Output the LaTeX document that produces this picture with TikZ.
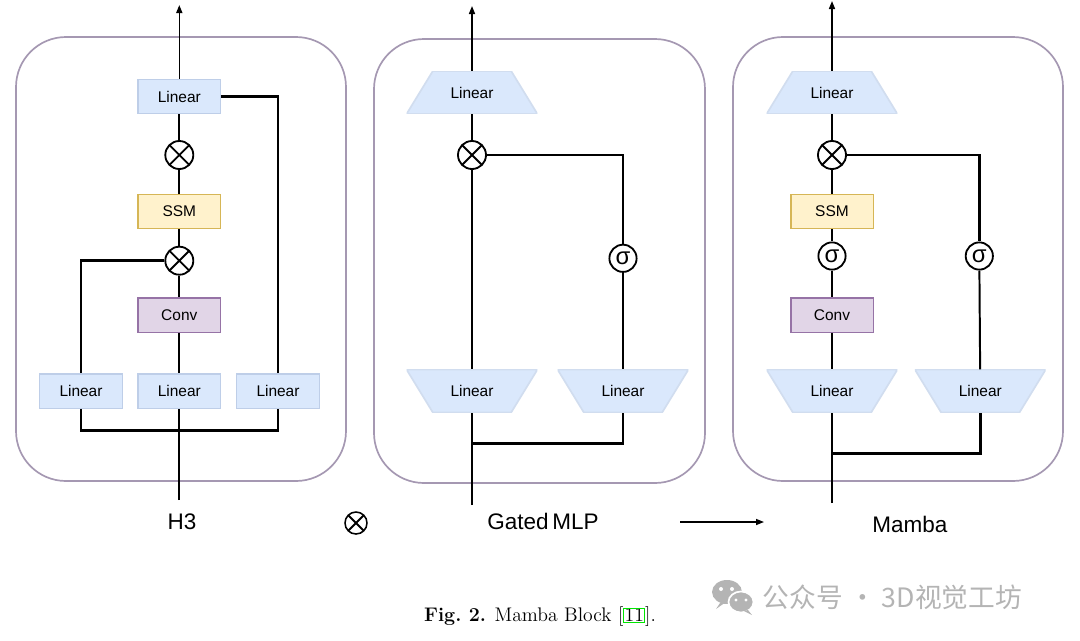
\documentclass[tikz,border=0pt]{standalone}
\usepackage{fontspec}
\newfontfamily\diagfont{Liberation Sans}
\newfontfamily\cjkfont{Noto Sans CJK SC}
\usetikzlibrary{shapes.geometric, arrows.meta, positioning}
\definecolor{linfill}{RGB}{218,232,252}
\definecolor{linborder}{RGB}{190,206,232}
\definecolor{ssmfill}{RGB}{255,242,204}
\definecolor{ssmborder}{RGB}{214,182,86}
\definecolor{convfill}{RGB}{225,213,231}
\definecolor{convborder}{RGB}{150,115,166}
\definecolor{panelborder}{RGB}{165,152,178}
\definecolor{markgray}{RGB}{180,180,180}
\definecolor{linkgreen}{RGB}{0,230,0}

\begin{document}
\begin{tikzpicture}[x=0.025cm, y=-0.025cm,
    panel/.style={draw=panelborder, line width=1.2pt, rounded corners=1.25cm},
    linbox/.style={draw=linborder, line width=1pt, fill=linfill, minimum width=2.06cm, minimum height=0.86cm, inner sep=0pt, font=\diagfont\fontsize{11}{13}\selectfont},
    ssmbox/.style={linbox, draw=ssmborder, fill=ssmfill},
    convbox/.style={linbox, draw=convborder, fill=convfill},
    narrowtop/.style={rectangle, minimum width=3.27cm, minimum height=1.07cm, inner sep=0pt, font=\diagfont\fontsize{11}{13}\selectfont,
        path picture={\filldraw[fill=linfill, draw=linborder!70, line width=1.2pt]
            (path picture bounding box.south west) -- (path picture bounding box.south east)
            -- ([xshift=-0.655cm]path picture bounding box.north east) -- ([xshift=0.655cm]path picture bounding box.north west) -- cycle;}},
    narrowbottom/.style={rectangle, minimum width=3.27cm, minimum height=1.07cm, inner sep=0pt, font=\diagfont\fontsize{11}{13}\selectfont,
        path picture={\filldraw[fill=linfill, draw=linborder!70, line width=1.2pt]
            (path picture bounding box.north west) -- (path picture bounding box.north east)
            -- ([xshift=-0.655cm]path picture bounding box.south east) -- ([xshift=0.655cm]path picture bounding box.south west) -- cycle;}},
    mul/.style={circle, draw, line width=1.3pt, fill=white, minimum size=0.7cm, inner sep=0pt,
        path picture={\draw[line width=1.3pt] (path picture bounding box.south west) -- (path picture bounding box.north east)
            (path picture bounding box.north west) -- (path picture bounding box.south east);}},
    sig/.style={circle, draw, line width=1.3pt, fill=white, minimum size=0.68cm, inner sep=0pt, font=\diagfont\fontsize{17}{17}\selectfont},
    wire/.style={line width=1.4pt},
    bus/.style={line width=2pt},
    arrow/.style={-{Triangle[length=2mm, width=1.5mm]}, line width=1.1pt},
    title/.style={font=\diagfont\fontsize{16}{18}\selectfont}
]
\useasboundingbox (0,0) rectangle (1080,640);

% Panels
\draw[panel] (16,37) rectangle (346,481);
\draw[panel] (374,39) rectangle (705,483);
\draw[panel] (733,37) rectangle (1063,481);

% H3
\node[linbox] (h3top) at (179.3,96.5) {Linear};
\node[mul] (h3mula) at (179.3,155) {};
\node[ssmbox] (h3ssm) at (179.3,211.5) {SSM};
\node[mul] (h3mulb) at (179.3,260.7) {};
\node[convbox] (h3conv) at (179.3,315) {Conv};
\node[linbox] (h3la) at (81,391) {Linear};
\node[linbox] (h3lb) at (179.3,391) {Linear};
\node[linbox] (h3lc) at (278,391) {Linear};
\coordinate (h3out) at (179.3,5);
\coordinate (h3in) at (179.3,500);
\coordinate (h3bus) at (179.3,430.7);

\draw[arrow] (h3top) -- (h3out);
\draw[wire] (h3top) -- (h3mula);
\draw[wire] (h3mula) -- (h3ssm);
\draw[wire] (h3ssm) -- (h3mulb);
\draw[wire] (h3mulb) -- (h3conv);
\draw[wire] (h3conv) -- (h3lb);
\draw[wire] (h3in) -- (h3lb);
\draw[bus] (h3la) |- (h3mulb);
\draw[bus] (h3lc) |- (h3top);
\draw[bus] (h3la) |- (h3bus) -| (h3lc);

% Gated MLP
\node[narrowtop] (gmtop) at (472,92.5) {Linear};
\node[mul] (gmmul) at (472,155) {};
\node[sig] (gmsig) at (623,258.3) {σ};
\node[narrowbottom] (gmla) at (472,391) {Linear};
\node[narrowbottom] (gmlb) at (623,391) {Linear};
\coordinate (gmout) at (472,6);
\coordinate (gmin) at (472,505);
\coordinate (gmbus) at (472,443.3);

\draw[arrow] (gmtop) -- (gmout);
\draw[wire] (gmtop) -- (gmmul);
\draw[wire] (gmmul) -- (gmla);
\draw[wire] (gmmul) -| (gmsig);
\draw[wire] (gmsig) -- (gmlb);
\draw[wire] (gmin) -- (gmla);
\draw[bus] (gmbus) -| (gmlb);

% Mamba
\node[narrowtop] (mbtop) at (832,92.5) {Linear};
\node[mul] (mbmul) at (832,155) {};
\node[ssmbox] (mbssm) at (832,211.5) {SSM};
\node[sig] (mbsiga) at (832,256) {σ};
\node[convbox] (mbconv) at (832,315) {Conv};
\node[narrowbottom] (mbla) at (832,391) {Linear};
\node[narrowbottom] (mblb) at (980.3,391) {Linear};
\node[sig] (mbsigb) at (979.3,256) {σ};
\coordinate (mbout) at (832,1);
\coordinate (mbin) at (832,503);
\coordinate (mbbus) at (832,453.3);

\draw[arrow] (mbtop) -- (mbout);
\draw[wire] (mbtop) -- (mbmul);
\draw[wire] (mbmul) -- (mbssm);
\draw[wire] (mbssm) -- (mbsiga);
\draw[wire] (mbsiga) -- (mbconv);
\draw[bus] (mbconv) -- (mbla);
\draw[wire] (mbin) -- (mbla);
\draw[bus] (mbmul) -| (mbsigb);
\draw[wire] (mbsigb) -- (mblb);
\draw[bus] (mbbus) -| (mblb);

% Labels and legend
\node[title] (h3name) at (182,522) {H3};
\node[title] (gmname) at (543,521) {Gated\,MLP};
\node[title] (mbname) at (910,524) {Mamba};
\node[mul, minimum size=0.55cm, line width=1.1pt] (legmul) at (356,523) {};
\coordinate (arrA) at (680,522);
\coordinate (arrB) at (764,522);
\draw[arrow, line width=1pt] (arrA) -- (arrB);

% Caption
\node[font=\fontsize{14}{16}\selectfont] (caption) at (540,617)
    {\textbf{Fig.~2.} Mamba Block [{\fboxsep=0.4pt\fboxrule=0.5pt\fcolorbox{linkgreen}{white}{11}}].};

% Watermark
\fill[markgray] (727,592) ellipse [x radius=15, y radius=12];
\fill[markgray] (720,603) -- (716,609) -- (726,602) -- cycle;
\filldraw[markgray, draw=white, line width=1.2pt] (741,602) ellipse [x radius=12.5, y radius=10.5];
\fill[markgray] (748,610) -- (752,615) -- (744,611) -- cycle;
\fill[white] (721,589) circle [radius=2] (732,589) circle [radius=2];
\fill[white] (736,600) circle [radius=1.6] (746,600) circle [radius=1.6];
\node[anchor=west, font=\cjkfont\fontsize{19}{21}\selectfont, text=markgray] (mark) at (758,597) {公众号 · 3D视觉工坊};

\end{tikzpicture}
\end{document}
